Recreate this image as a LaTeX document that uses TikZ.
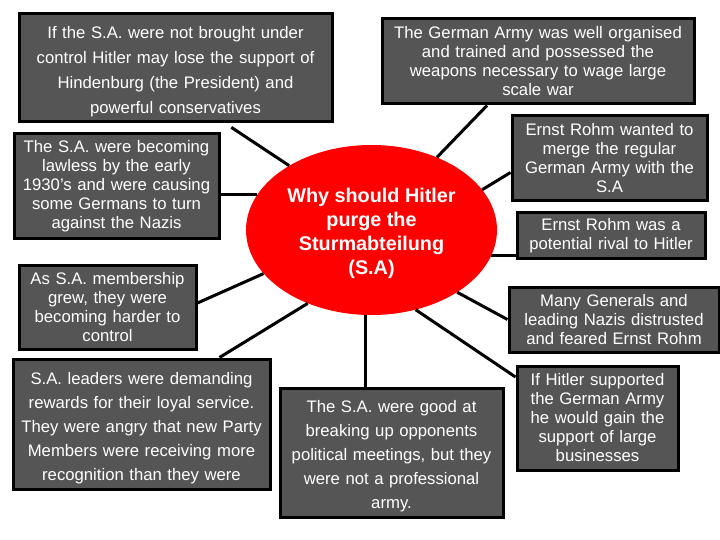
\documentclass[tikz,border=0pt]{standalone}
\usepackage{fontspec}
\setmainfont{Liberation Sans}
\usepackage{tikz}
\usetikzlibrary{shapes.geometric}
\definecolor{boxgray}{RGB}{85,85,85}

\begin{document}
\begin{tikzpicture}[x=1pt,y=-1pt,
    box/.style={draw=black,line width=3pt,fill=boxgray,text=white,align=center,inner sep=2pt,font=\fontsize{16.7}{19}\selectfont},
    link/.style={line width=3pt}]

\useasboundingbox[fill=white] (0,0) rectangle (720,540);

\node[ellipse,fill=red,text=white,align=center,minimum width=251,minimum height=170,font=\fontsize{19.8}{24}\bfseries\selectfont] (v0) at (371.5,230) {\rule{0pt}{20.5pt}Why should Hitler\\purge the\\Sturmabteilung\\(S.A)};

\node[box,minimum width=313,minimum height=108,text width=305,font=\fontsize{16.7}{25}\selectfont] (v1) at (175.5,68) {\rule{0pt}{20pt}If the S.A. were not brought under\\control Hitler may lose the support of\\Hindenburg (the President) and\\powerful conservatives};
\node[box,minimum width=205,minimum height=104,text width=197] (v2) at (116.5,186) {The S.A. were becoming\\lawless by the early\\1930’s and were causing\\some Germans to turn\\against the Nazis};
\node[box,minimum width=177,minimum height=84,text width=169] (v3) at (107.5,307) {As S.A. membership\\grew, they were\\becoming harder to\\control};
\node[box,minimum width=257,minimum height=130,text width=249,font=\fontsize{16.7}{24}\selectfont] (v4) at (141.5,424) {\rule{0pt}{20pt}S.A. leaders were demanding\\rewards for their loyal service.\\They were angry that new Party\\Members were receiving more\\recognition than they were};
\node[box,minimum width=223,minimum height=129,text width=215,font=\fontsize{16.7}{24}\selectfont] (v5) at (391.5,452.5) {\rule{0pt}{20pt}The S.A. were good at\\breaking up opponents\\political meetings, but they\\were not a professional\\army.};
\node[box,minimum width=312,minimum height=85,text width=304] (v6) at (538,61.5) {The German Army was well organised\\and trained and possessed the\\weapons necessary to wage large\\scale war};
\node[box,minimum width=195,minimum height=85,text width=187] (v7) at (609.5,158.5) {Ernst Rohm wanted to\\merge the regular\\German Army with the\\S.A};
\node[box,minimum width=188,minimum height=45,text width=180] (v8) at (611,235.5) {Ernst Rohm was a\\potential rival to Hitler};
\node[box,minimum width=210,minimum height=65,text width=202] (v9) at (614,319.5) {Many Generals and\\leading Nazis distrusted\\and feared Ernst Rohm};
\node[box,minimum width=161,minimum height=104,text width=153] (v10) at (597.5,418) {If Hitler supported\\the German Army\\he would gain the\\support of large\\businesses};

\draw[link,shorten >=7pt] (v0.142) -- ([xshift=50pt]v1.south);
\draw[link] (v0.163) -- (v0.163 -| v2.east);
\draw[link] (v0.202) -- ([yshift=4pt]v3.east);
\draw[link] (v0.229) -- ([xshift=78pt]v4.north);
\draw[link] (v0.266) -- (v0.266 |- v5.north);
\draw[link] (v0.48) -- ([xshift=-51pt]v6.south);
\draw[link] (v0.20) -- ([yshift=-14pt]v7.west);
\draw[link] (v0.348) -- (v0.348 -| v8.west);
\draw[link] (v0.324) -- (v9.west);
\draw[link] (v0.299) -- ([yshift=41pt]v10.west);

\end{tikzpicture}
\end{document}
